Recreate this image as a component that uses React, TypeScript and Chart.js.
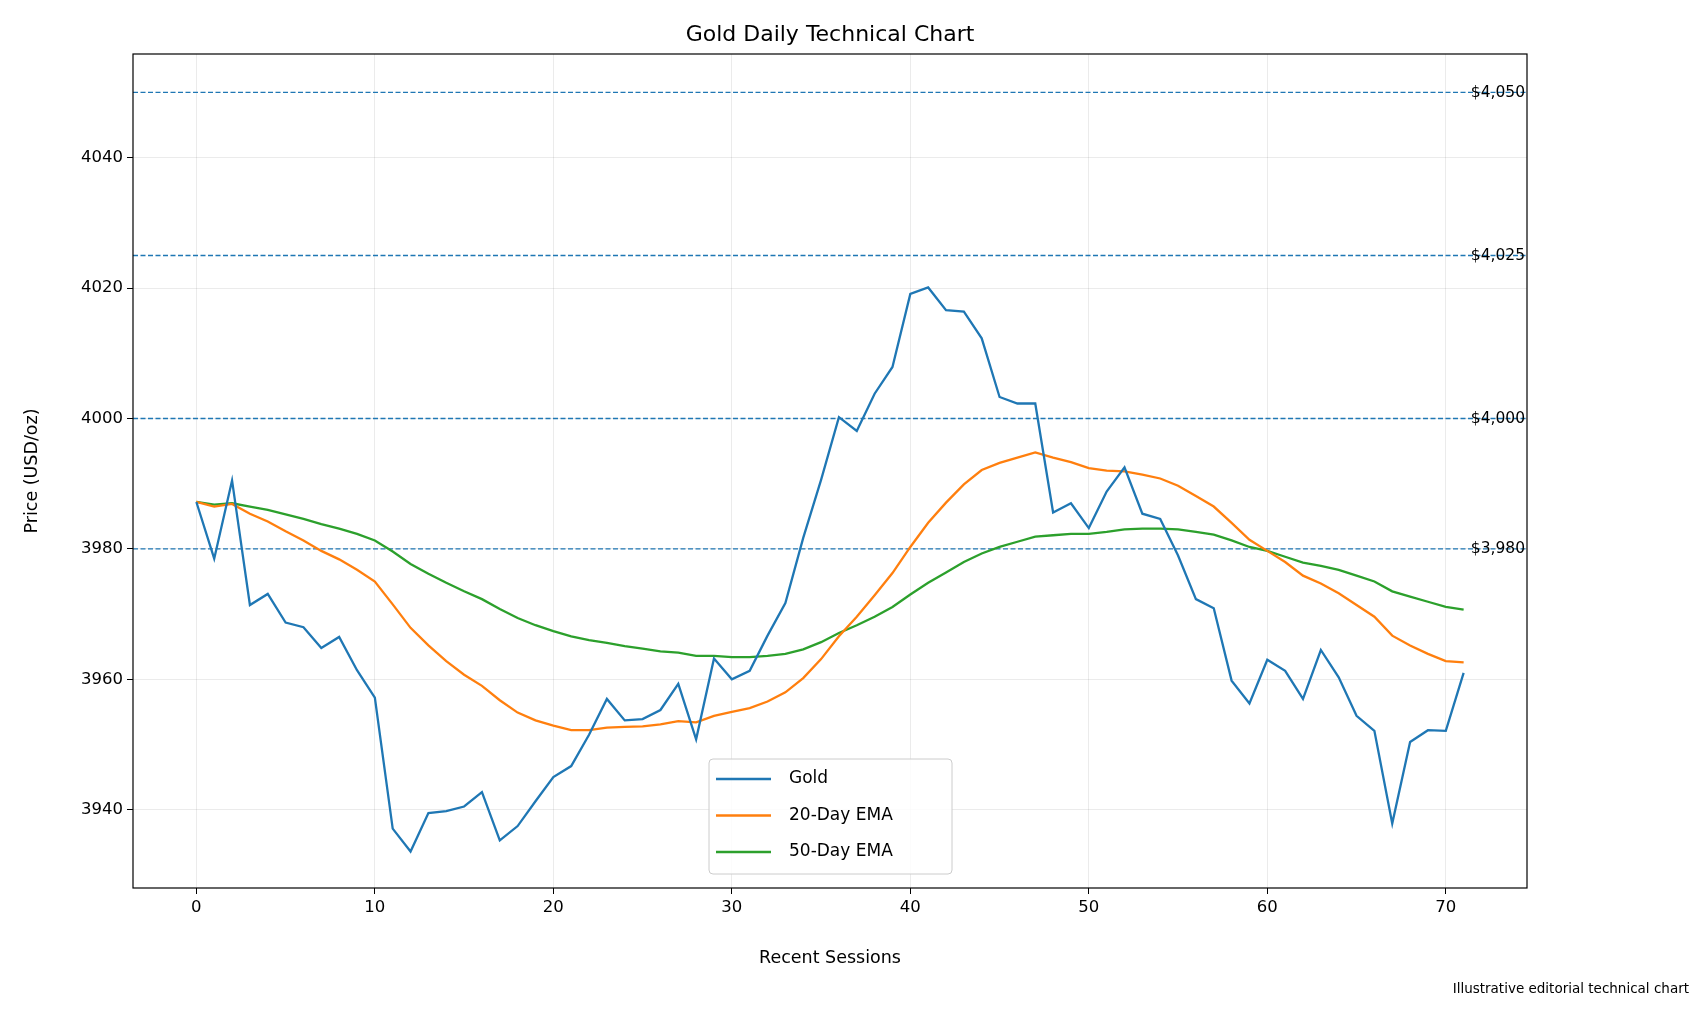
import React, { useEffect, useRef } from "react";
import { Chart, registerables } from "chart.js";
Chart.register(...registerables);

const gold = [3987.2,3978.5,3990.5,3971.4,3973.1,3968.7,3968.0,3964.8,3966.5,3961.4,3957.2,3937.1,3933.6,3939.5,3939.8,3940.5,3942.7,3935.3,3937.5,3941.3,3945,3946.7,3951.5,3957,3953.7,3953.9,3955.3,3959.3,3950.8,3963.2,3960,3961.3,3966.7,3971.7,3981.7,3990.6,4000.2,3998.1,4003.8,4007.9,4019.1,4020.1,4016.6,4016.4,4012.3,4003.3,4002.3,4002.3,3985.6,3987,3983.2,3988.8,3992.5,3985.4,3984.6,3979,3972.3,3970.9,3959.8,3956.3,3963,3961.3,3957,3964.5,3960.3,3954.4,3952.1,3937.9,3950.4,3952.2,3952.1,3961];
const ema20 = [3987.2,3986.5,3986.9,3985.4,3984.2,3982.7,3981.3,3979.7,3978.4,3976.8,3975,3971.5,3967.9,3965.2,3962.8,3960.7,3959,3956.8,3954.9,3953.7,3952.9,3952.2,3952.2,3952.6,3952.7,3952.8,3953.1,3953.6,3953.4,3954.4,3955,3955.6,3956.6,3958,3960.2,3963.1,3966.6,3969.6,3972.9,3976.3,3980.3,3984,3987.1,3989.9,3992.1,3993.2,3994,3994.8,3994,3993.3,3992.4,3992,3991.9,3991.4,3990.8,3989.7,3988.1,3986.5,3984,3981.4,3979.7,3978,3975.9,3974.7,3973.2,3971.4,3969.6,3966.7,3965.2,3963.9,3962.8,3962.6];
const ema50 = [3987.2,3986.8,3987,3986.5,3986,3985.3,3984.6,3983.8,3983.1,3982.3,3981.3,3979.6,3977.7,3976.2,3974.8,3973.5,3972.3,3970.8,3969.4,3968.3,3967.4,3966.6,3966,3965.6,3965.1,3964.7,3964.3,3964.1,3963.6,3963.6,3963.4,3963.4,3963.6,3963.9,3964.6,3965.7,3967.1,3968.3,3969.6,3971.1,3973,3974.8,3976.4,3978,3979.3,3980.3,3981.1,3981.9,3982.1,3982.3,3982.3,3982.6,3983,3983.1,3983.1,3983,3982.6,3982.2,3981.3,3980.3,3979.7,3978.8,3977.9,3977.4,3976.8,3975.9,3975,3973.5,3972.7,3971.9,3971.1,3970.7];
const levels = [3980, 4000, 4025, 4050];
const levelLabels = ["$3,980", "$4,000", "$4,025", "$4,050"];
const xTicks = [0, 10, 20, 30, 40, 50, 60, 70];
const yTicks = [3940, 3960, 3980, 4000, 4020, 4040];
const seriesNames = ["Gold", "20-Day EMA", "50-Day EMA"];
const colors = ["#1f77b4", "#ff7f0e", "#2ca02c"];
const FONT = "'DejaVu Sans', sans-serif";

export default function App() {
  const ref = useRef<HTMLCanvasElement>(null);
  useEffect(() => {
    const toPts = (a: number[]) => a.map((y, i) => ({ x: i, y }));
    const overlay = {
      id: "overlay",
      beforeDatasetsDraw(chart: any) {
        const { ctx, chartArea: a, scales } = chart;
        ctx.save();
        ctx.beginPath(); ctx.rect(a.left, a.top, a.right - a.left, a.bottom - a.top); ctx.clip();
        ctx.strokeStyle = "#1f77b4"; ctx.lineWidth = 1.3; ctx.setLineDash([5, 2.5]);
        levels.forEach((l) => {
          const y = scales.y.getPixelForValue(l);
          ctx.beginPath(); ctx.moveTo(a.left, y); ctx.lineTo(a.right, y); ctx.stroke();
        });
        ctx.restore();
      },
      afterDraw(chart: any) {
        const { ctx, chartArea: a, scales } = chart;
        ctx.save();
        ctx.fillStyle = "#000"; ctx.font = `15.5px ${FONT}`; ctx.textBaseline = "middle"; ctx.textAlign = "left";
        levels.forEach((l, i) => {
          ctx.fillText(levelLabels[i], scales.x.getPixelForValue(71.4), scales.y.getPixelForValue(l));
        });
        ctx.strokeStyle = "#000"; ctx.lineWidth = 1.2;
        ctx.strokeRect(a.left, a.top, a.right - a.left, a.bottom - a.top);
        ctx.font = `22px ${FONT}`; ctx.textAlign = "center"; ctx.textBaseline = "bottom";
        ctx.fillText("Gold Daily Technical Chart", (a.left + a.right) / 2, a.top - 8);
        const lx = 701, ly = 751, lw = 243, lh = 115;
        ctx.fillStyle = "rgba(255,255,255,0.85)"; ctx.strokeStyle = "#cccccc"; ctx.lineWidth = 1;
        ctx.beginPath(); (ctx as any).roundRect(lx, ly, lw, lh, 4); ctx.fill(); ctx.stroke();
        ctx.font = `17px ${FONT}`; ctx.textAlign = "left"; ctx.textBaseline = "middle";
        seriesNames.forEach((n, i) => {
          const y = ly + 20 + i * 36.5;
          ctx.strokeStyle = colors[i]; ctx.lineWidth = 2.3;
          ctx.beginPath(); ctx.moveTo(lx + 7, y); ctx.lineTo(lx + 62, y); ctx.stroke();
          ctx.fillStyle = "#000"; ctx.fillText(n, lx + 80, y);
        });
        ctx.font = `13.5px ${FONT}`; ctx.textAlign = "right"; ctx.textBaseline = "middle";
        ctx.fillText("Illustrative editorial technical chart", 1681, 981);
        ctx.restore();
      },
    };
    const chart = new Chart(ref.current!, {
      type: "line",
      data: {
        datasets: [gold, ema20, ema50].map((d, i) => ({
          label: seriesNames[i], data: toPts(d), borderColor: colors[i], backgroundColor: colors[i],
          borderWidth: 2.3, pointRadius: 0, tension: 0,
        })),
      },
      options: {
        animation: false, responsive: true, maintainAspectRatio: false,
        layout: { padding: { left: 10, top: 46, right: 173, bottom: 36 } },
        plugins: { legend: { display: false }, tooltip: { enabled: false }, title: { display: false } },
        scales: {
          x: {
            type: "linear", min: -3.55, max: 74.55,
            afterBuildTicks: (s: any) => { s.ticks = xTicks.map((v) => ({ value: v })); },
            afterFit: (s: any) => { s.height = 85; },
            grid: { color: "rgba(0,0,0,0.08)", tickColor: "#000", tickLength: 6 },
            border: { display: false },
            ticks: { color: "#000", font: { family: FONT, size: 16.5 }, padding: 4, maxRotation: 0 },
            title: { display: true, text: "Recent Sessions", color: "#000", font: { family: FONT, size: 17.5 }, padding: { top: 4 } },
          },
          y: {
            type: "linear", min: 3928, max: 4055.9,
            afterBuildTicks: (s: any) => { s.ticks = yTicks.map((v) => ({ value: v })); },
            afterFit: (s: any) => { s.width = 115; },
            grid: { color: "rgba(0,0,0,0.08)", tickColor: "#000", tickLength: 6 },
            border: { display: false },
            ticks: { color: "#000", font: { family: FONT, size: 16.5 }, padding: 4, callback: (v: any) => String(v) },
            title: { display: true, text: "Price (USD/oz)", color: "#000", font: { family: FONT, size: 17.5 }, padding: { bottom: 6 } },
          },
        },
      },
      plugins: [overlay],
    } as any);
    return () => chart.destroy();
  }, []);
  return (
    <div style={{ width: 1692, height: 1001, position: "relative" }}>
      <canvas ref={ref} style={{ display: "block" }} />
    </div>
  );
}
